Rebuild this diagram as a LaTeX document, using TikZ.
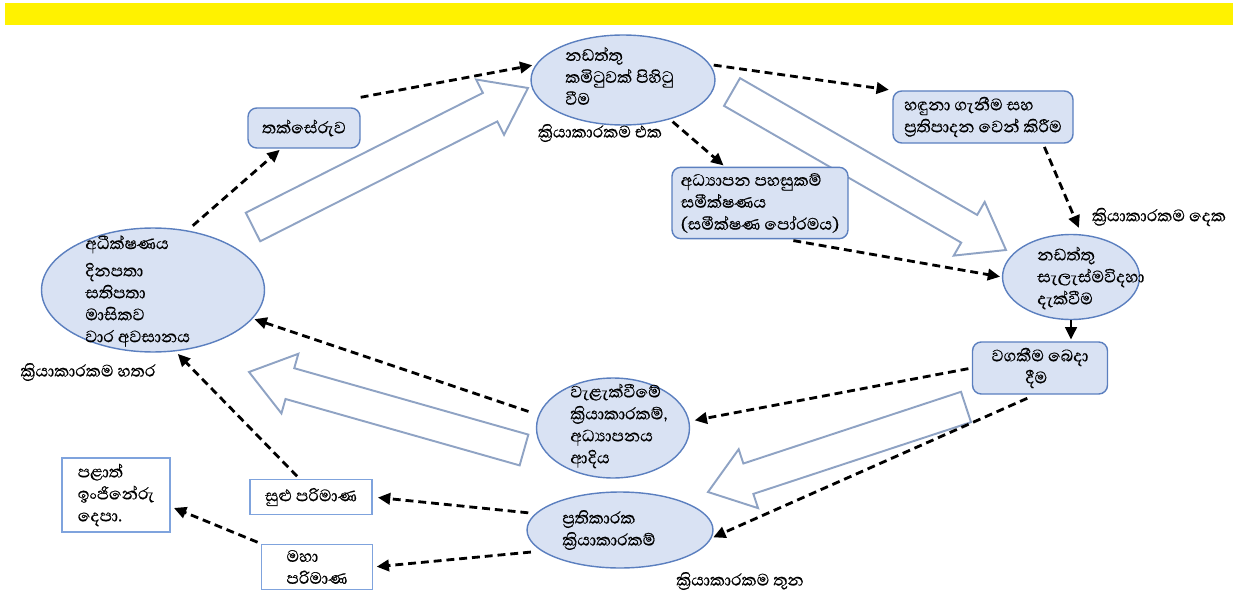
\documentclass[tikz,border=0pt]{standalone}
\usepackage{fontspec}
\newfontfamily\sinhala[Script=Sinhala,FakeBold=0.5]{Abhaya Libre}
\usetikzlibrary{arrows.meta,calc,shapes.geometric}

\definecolor{ovalfill}{HTML}{D9E2F3}
\definecolor{ovalline}{HTML}{5B7FBF}
\definecolor{hollowline}{HTML}{8FA3C4}
\definecolor{sqline}{HTML}{7FA3DD}
\newcommand{\sinfont}{\sinhala\fontsize{12}{12.5}\selectfont\lineskiplimit=-20pt\relax}

\begin{document}
\begin{tikzpicture}[x=0.02cm,y=-0.02cm,
    font=\sinfont,
    oval/.style={ellipse,draw=ovalline,fill=ovalfill,line width=0.8pt},
    txt/.style={align=left,anchor=west,inner sep=0pt},
    rbox/.style={draw=ovalline,fill=ovalfill,line width=0.8pt,rounded corners=5pt,align=left},
    sqbox/.style={draw=sqline,fill=white,line width=0.8pt,align=left},
    dasharr/.style={-{Triangle[length=7pt,width=6.5pt]},line width=1.6pt,dash pattern=on 4.5pt off 2.8pt},
    hollow/.style={draw=hollowline,fill=white,line width=1.1pt,line join=miter}]
  \useasboundingbox (0,0) rectangle (1236,601);
  \fill[yellow] (5,3) rectangle (1233,25);

  \coordinate (at) at (253,227); \coordinate (ah) at (528,88);
  \coordinate (bt) at (732,92);  \coordinate (bh) at (1006,250);
  \coordinate (ct) at (966,407); \coordinate (ch) at (708,492);
  \coordinate (dt) at (524,450); \coordinate (dh) at (249,372);
  \foreach \a/\b in {at/ah,bt/bh,ct/ch,dt/dh}{
    \coordinate (hb) at ($(\b)!0.85cm!(\a)$);
    \draw[hollow] ($(\a)!0.32cm!-90:(\b)$) -- ($(hb)!0.32cm!-90:(\b)$)
      -- ($(hb)!0.62cm!-90:(\b)$) -- (\b) -- ($(hb)!0.62cm!90:(\b)$)
      -- ($(hb)!0.32cm!90:(\b)$) -- ($(\a)!0.32cm!90:(\b)$) -- cycle;
  }

  \node[oval,minimum width=3.68cm,minimum height=1.8cm] (tope) at (623,80) {};
  \node[txt] (tope-t) at (565,76) {නඩත්තු\\කමිටුවක් පිහිටු\\වීම};
  \node[oval,minimum width=2.74cm,minimum height=1.7cm] (righte) at (1071,277) {};
  \node[txt] (righte-t) at (1037,278) {නඩත්තු\\සැලැස්මවිදහා\\දැක්වීම};
  \node[oval,minimum width=4.46cm,minimum height=2.48cm] (lefte) at (153,290) {};
  \node[txt] (lefte-t) at (85,291) {අධීක්ෂණය\\[3pt]දිනපතා\\සතිපතා\\මාසිකව\\වාර අවසානය};
  \node[oval,minimum width=3.06cm,minimum height=2cm] (mide) at (613,428) {};
  \node[txt] (mide-t) at (570,426) {වැළැක්වීමේ\\ක්^^^^200dරියාකාරකම්,\\අධ්^^^^200dයාපනය\\ආදිය};
  \node[oval,minimum width=3.72cm,minimum height=1.52cm] (bote) at (620,530) {};
  \node[txt] (bote-t) at (562,530) {ප්^^^^200dරතිකාරක\\ක්^^^^200dරියාකාරකම්};

  \node[rbox,minimum width=2.24cm,minimum height=0.8cm] (tak) at (304,128) {තක්සේරුව};
  \node[rbox,minimum width=3.6cm,minimum height=0.92cm] (hadu) at (983,117) {හඳුනා ගැනීම සහ\\ප්^^^^200dරතිපාදන වෙන් කිරීම};
  \node[rbox,minimum width=3.52cm,minimum height=1.26cm] (adya) at (760,203) {අධ්^^^^200dයාපන පහසුකම්\\සමීක්ෂණය\\(සමීක්ෂණ පෝරමය)};
  \node[rbox,minimum width=2.7cm,minimum height=0.88cm] (waga) at (1040,368) {වගකීම බෙදා\\\hspace*{1.6em}දීම};

  \node[sqbox,minimum width=2.16cm,minimum height=1.18cm] (palath) at (116,495) {පළාත්\\ඉංජිනේරු\\දෙපා.};
  \node[sqbox,minimum width=2.44cm,minimum height=0.7cm] (sulu) at (311,497) {සුළු පරිමාණ};
  \node[sqbox,minimum width=2.22cm,minimum height=0.9cm] (maha) at (317,567) {මහා\\පරිමාණ};

  \node (lab1) at (600,133) {ක්^^^^200dරියාකාරකම එක};
  \node (lab2) at (1159,217) {ක්^^^^200dරියාකාරකම දෙක};
  \node (lab3) at (740,581) {ක්^^^^200dරියාකාරකම තුන};
  \node (lab4) at (88,372) {ක්^^^^200dරියාකාරකම හතර};

  \draw[dasharr,shorten <=4pt,shorten >=1pt] (lefte.60) -- (tak.222);
  \draw[dasharr,shorten >=2pt] ([yshift=0.2cm]tak.north east) -- (tope.170);
  \draw[dasharr,shorten <=2pt,shorten >=2pt] (tope.10) -- (hadu.north west);
  \draw[dasharr,shorten <=2pt,shorten >=1pt] (tope.-40) -- (adya.134);
  \draw[dasharr,shorten <=2pt,shorten >=4pt] (hadu.-24) -- (righte.76);
  \draw[dasharr,shorten <=4pt,shorten >=1pt] (adya.-54) -- (righte.west);
  \draw[-{Triangle[length=7pt,width=6.5pt]},line width=1.6pt,shorten >=1pt] (righte.south) -- (righte.south |- waga.north);
  \draw[dasharr,shorten <=2pt,shorten >=3pt] (waga.west) -- (mide.5);
  \draw[dasharr,shorten <=5pt,shorten >=1pt] (waga.-100) -- (bote.-5);
  \draw[dasharr,shorten <=6pt,shorten >=1pt] (mide.170) -- (lefte.-16);
  \draw[dasharr,shorten <=2pt,shorten >=2pt] (sulu.122) -- (lefte.-70);
  \draw[dasharr,shorten <=4pt,shorten >=3pt] (bote.169) -- (sulu.east);
  \draw[dasharr,shorten <=6pt,shorten >=2pt] (bote.195) -- (maha.east);
  \draw[dasharr,shorten <=2pt,shorten >=2pt] (maha.north west) -- (palath.-12);
\end{tikzpicture}
\end{document}
